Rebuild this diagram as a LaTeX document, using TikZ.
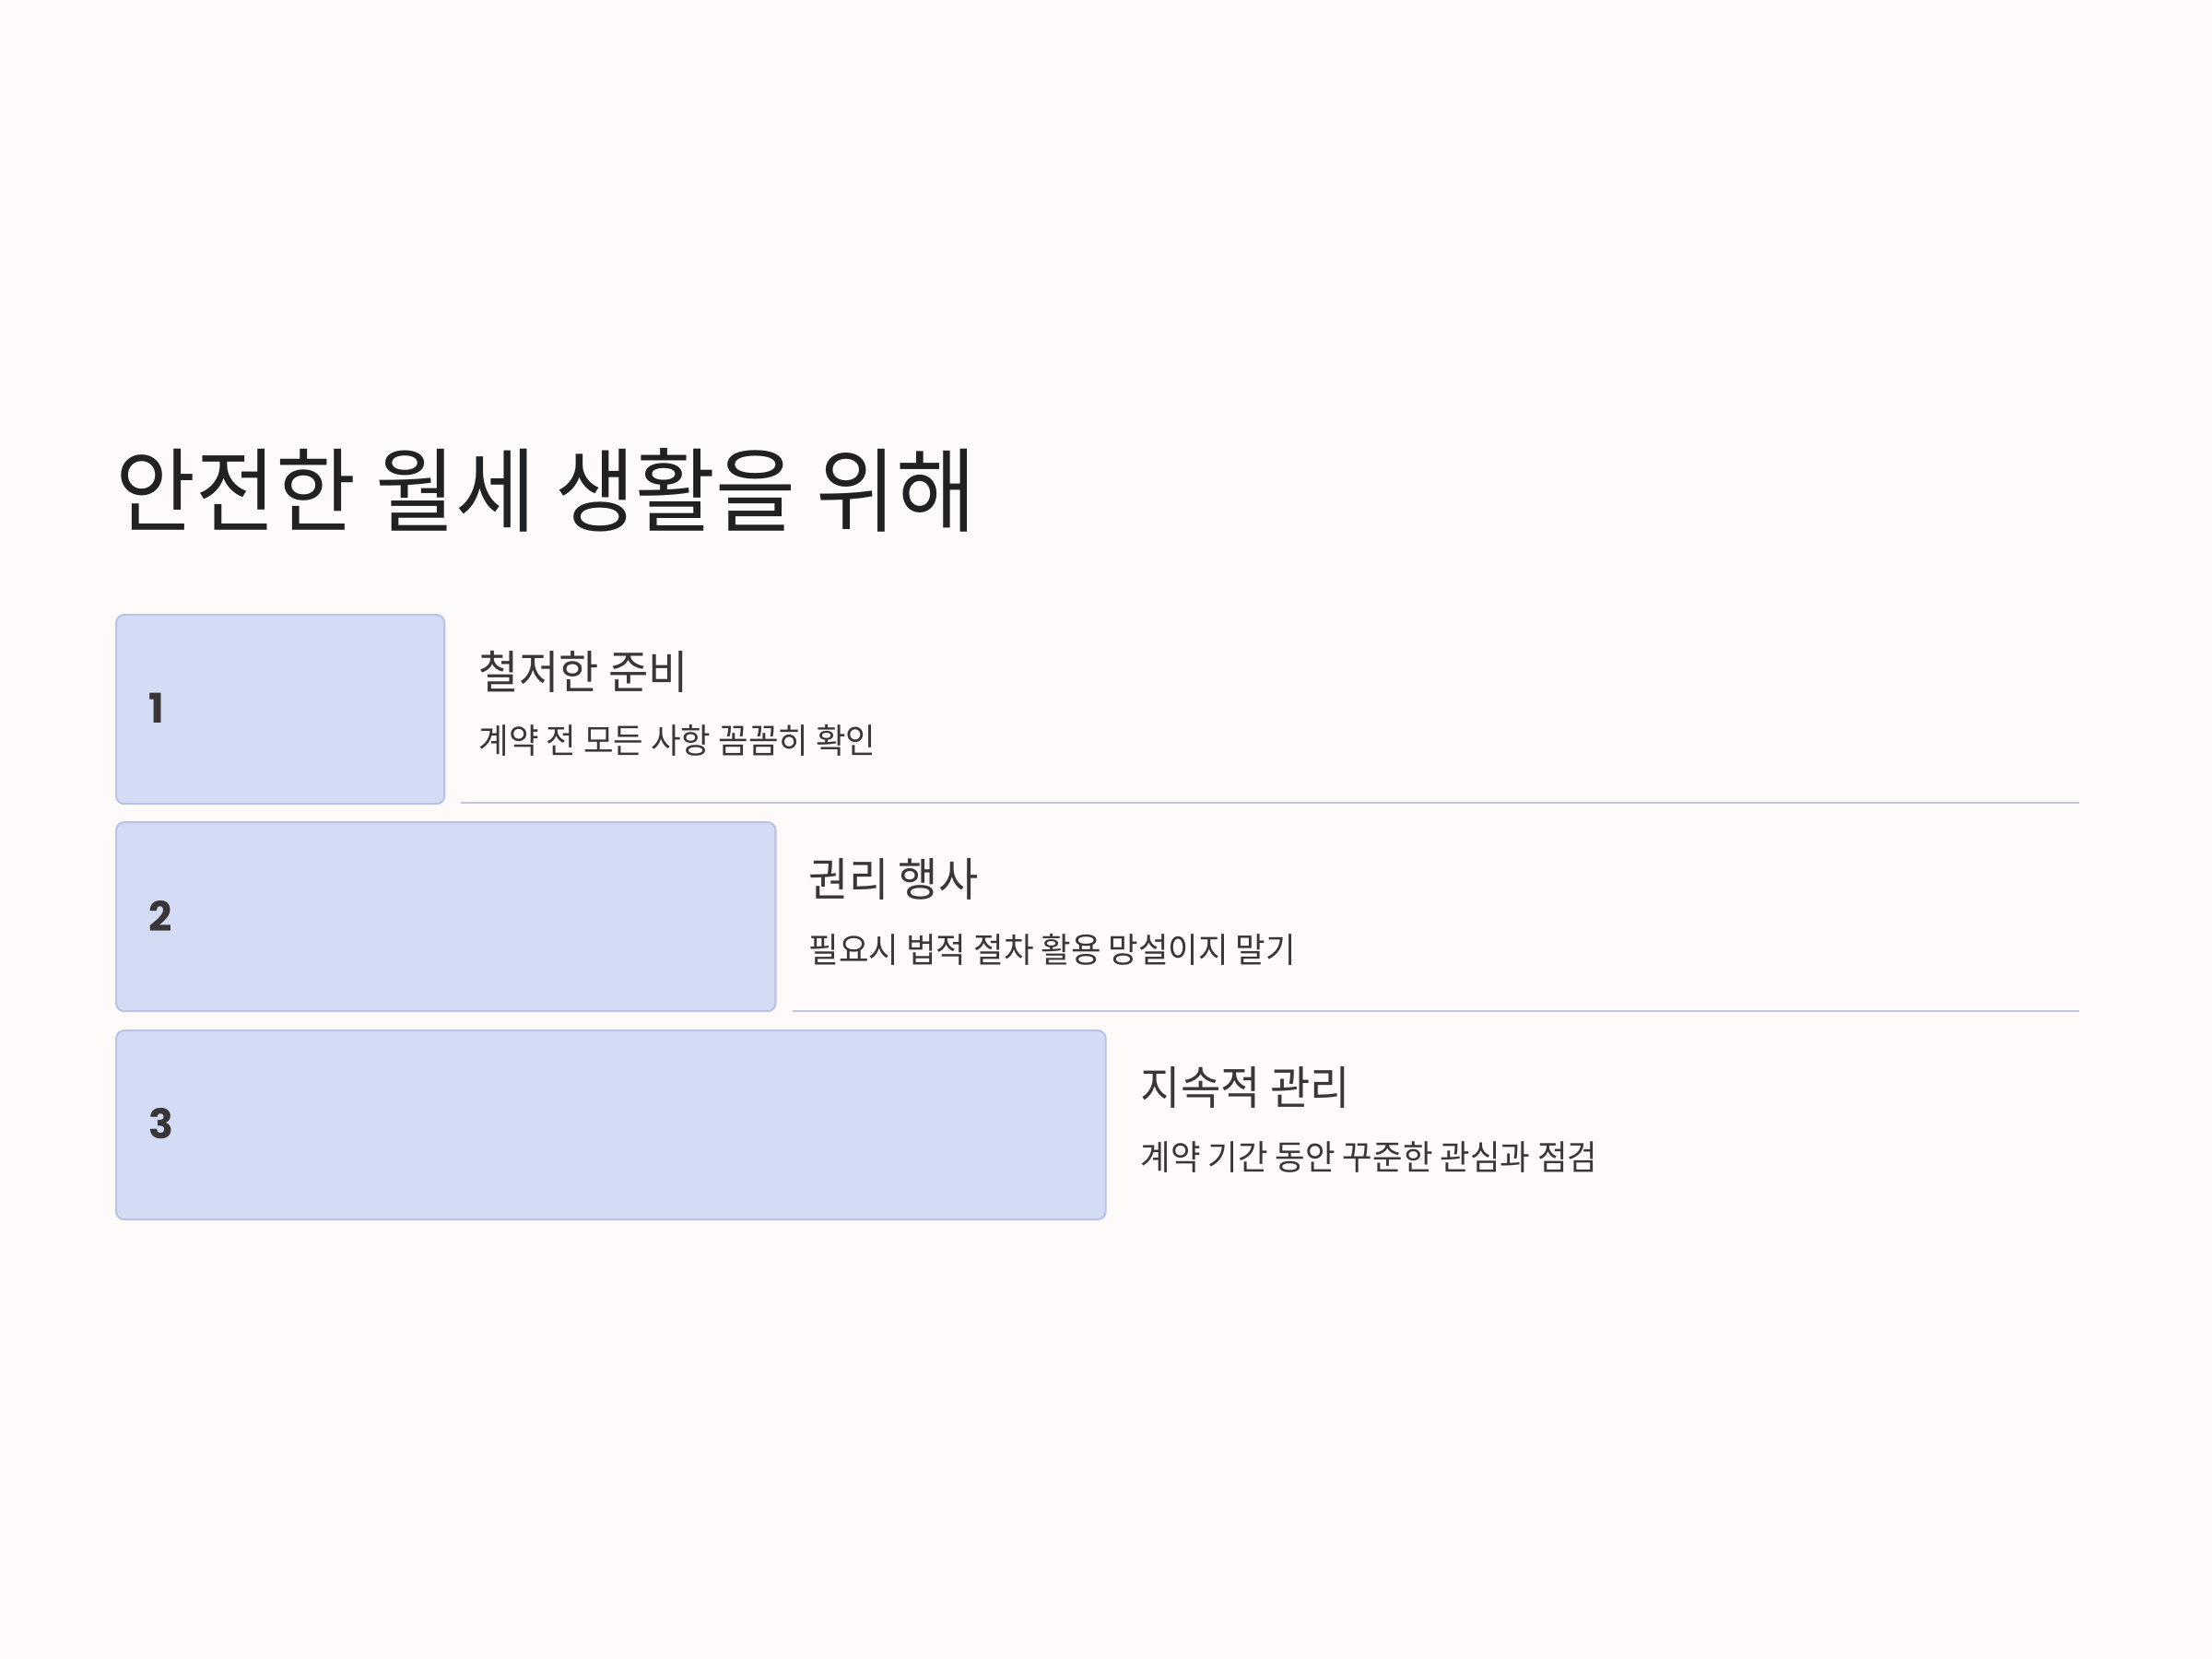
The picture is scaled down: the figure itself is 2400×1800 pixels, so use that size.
\documentclass[tikz,border=0pt]{standalone}
\usepackage{fontspec}
\setmainfont[FakeStretch=0.95]{Noto Sans CJK KR}
\newfontfamily\numfont{Poppins}
\usetikzlibrary{positioning}

\definecolor{pagebg}{HTML}{FDFAF9}
\definecolor{barfill}{HTML}{D4DCF5}
\definecolor{barline}{HTML}{B9C3E3}
\definecolor{rulecol}{HTML}{C3C5DB}
\definecolor{inkdark}{HTML}{222021}
\definecolor{inktext}{HTML}{3A3536}

\begin{document}
\begin{tikzpicture}[x=0.01cm, y=-0.01cm,
  bar/.style={draw=barline, fill=barfill, line width=0.6pt, rounded corners=2.5pt,
    anchor=north west, minimum height=2.05cm, inner sep=0pt},
  num/.style={font=\numfont\bfseries\fontsize{12.6}{15}\selectfont, text=inktext, anchor=west, inner sep=0pt},
  head/.style={font=\fontsize{14.1}{17}\selectfont, text=inktext, anchor=base west, inner sep=0pt},
  sub/.style={font=\fontsize{10.6}{13}\selectfont, text=inktext, anchor=base west, inner sep=0pt},
  rule/.style={draw=rulecol, line width=0.6pt}]
\fill[pagebg] (0,0) rectangle (2400,1800);
\useasboundingbox (0,0) rectangle (2400,1800);

\node[anchor=base west, inner sep=0pt, text=inkdark, font=\fontsize{28.3}{32}\selectfont] (title) at (125,569) {안전한 월세 생활을 위해};

% step 1
\node[bar, minimum width=3.56cm] (box1) at (125,666) {};
\node[num] (num1) at (161,768.5) {1};
\node[head] (head1) at (519,747) {철저한 준비};
\node[sub] (sub1) at (519,817) {계약 전 모든 사항 꼼꼼히 확인};
\coordinate (r1a) at (500,871);
\coordinate (r1b) at (2256,871);
\draw[rule] (r1a) -- (r1b);

% step 2
\node[bar, minimum width=7.15cm] (box2) at (125,891) {};
\node[num] (num2) at (161,993.5) {2};
\node[head] (head2) at (877,972) {권리 행사};
\node[sub] (sub2) at (877,1044) {필요시 법적 절차 활용 망설이지 말기};
\coordinate (r2a) at (860,1097);
\coordinate (r2b) at (2256,1097);
\draw[rule] (r2a) -- (r2b);

% step 3
\node[bar, minimum width=10.73cm] (box3) at (125,1117) {};
\node[num] (num3) at (161,1219.5) {3};
\node[head] (head3) at (1237,1198) {지속적 관리};
\node[sub] (sub3) at (1237,1269) {계약 기간 동안 꾸준한 관심과 점검};

\end{tikzpicture}
\end{document}
